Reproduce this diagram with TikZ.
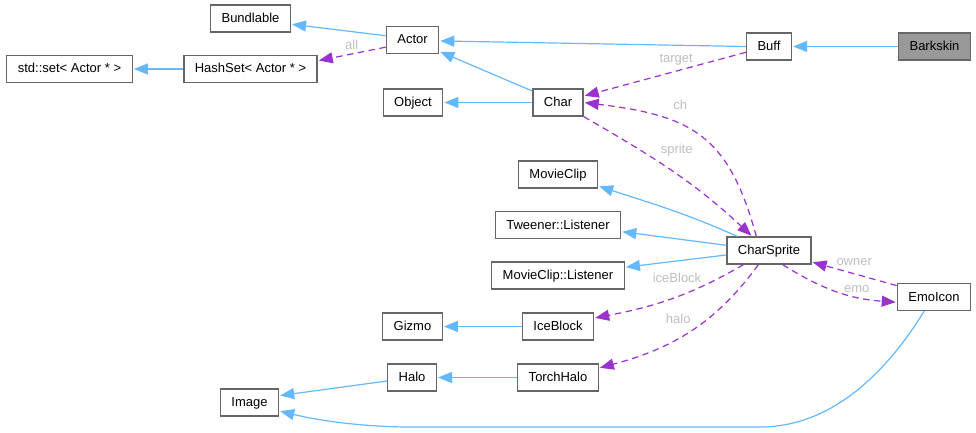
\documentclass[tikz,border=0pt]{standalone}
\usepackage{fontspec}
\setmainfont{Liberation Sans}
\usetikzlibrary{positioning,arrows.meta}

\definecolor{boxgray}{HTML}{666666}
\definecolor{rootgray}{HTML}{999999}
\definecolor{inhblue}{HTML}{63B8FF}
\definecolor{memberpurple}{HTML}{9A32CD}
\definecolor{labelgray}{HTML}{BEBEBE}

\tikzset{
  box/.style={draw=boxgray,line width=1.3pt,fill=white,minimum height=27pt,inner xsep=11pt,inner ysep=0pt,text height=10pt,text depth=2pt,font=\fontsize{13}{15}\selectfont},
  rootbox/.style={box,fill=rootgray},
  inherits/.style={-{Triangle[length=14pt,width=11pt]},draw=inhblue,line width=1.2pt},
  member/.style={-{Triangle[length=14pt,width=11pt]},draw=memberpurple,line width=1.2pt,dash pattern=on 6.5pt off 4.5pt},
  lbl/.style={text=labelgray,inner sep=0pt,text height=10pt,text depth=2pt,font=\fontsize{13}{15}\selectfont}
}

\begin{document}
\begin{tikzpicture}[x=1pt,y=1pt,shorten >=1pt,on grid]
   \useasboundingbox (0,0) rectangle (976,-433);

   \node[rootbox] (Barkskin) at (934.5,-46.5) {Barkskin};
   \node[box] (Buff) [left=165.5pt of Barkskin] {Buff};
   \node[box] (Char) [below left=56pt and 211pt of Buff] {Char};
   \node[box] (Actor) [above left=62.5pt and 145.5pt of Char] {Actor};
   \node[box] (Object) [left=145pt of Char] {Object};
   \node[box] (Bundlable) [above left=21.5pt and 162pt of Actor] {Bundlable};
   \node[box] (HashSet) [below left=29pt and 162pt of Actor] {HashSet< Actor * >};
   \node[box] (StdSet) [left=181pt of HashSet] {std::set< Actor * >};
   \node[box] (CharSprite) [below=204pt of Buff] {CharSprite};
   \node[box] (MovieClip) [below=72pt of Char] {MovieClip};
   \node[box] (TweenerListener) [below=50.5pt of MovieClip] {Tweener::Listener};
   \node[box] (ClipListener) [below=50.5pt of TweenerListener] {MovieClip::Listener};
   \node[box] (IceBlock) [below=51pt of ClipListener] {IceBlock};
   \node[box] (TorchHalo) [below=51pt of IceBlock] {TorchHalo};
   \node[box] (Gizmo) [left=145.5pt of IceBlock] {Gizmo};
   \node[box] (Halo) [left=146pt of TorchHalo] {Halo};
   \node[box] (Image) [below left=25pt and 162.5pt of Halo] {Image};
   \node[box] (EmoIcon) [below right=46.5pt and 165pt of CharSprite] {EmoIcon};

    \path
    (Barkskin.west) edge [inherits] (Buff.east)
    (Buff.west) edge [inherits] (Actor.-2)
    (Char.156) edge [inherits] (Actor.-23)
    (Char.west) edge [inherits] (Object.east)
    (Actor.171) edge [inherits] (Bundlable.-8)
    (HashSet.west) edge [inherits] (StdSet.east)
    (CharSprite.156) edge [inherits,out=156,in=-18] (MovieClip.-16)
    (CharSprite.173) edge [inherits] (TweenerListener.-6)
    (CharSprite.186) edge [inherits] (ClipListener.7)
    (IceBlock.west) edge [inherits] (Gizmo.east)
    (TorchHalo.west) edge [inherits] (Halo.east)
    (Halo.188) edge [inherits] (Image.13)
    ;
    \draw[inherits] (EmoIcon.235) .. controls (885,-375) and (830,-427) .. (760,-427)
      -- (410,-427) .. controls (370,-427) and (325,-422) .. (Image.-16);

    \path
    (Actor.195) edge [member] node[lbl,pos=.5,yshift=8pt] (lblall) {all} (HashSet.7)
    (Buff.194) edge [member] node[lbl,pos=.43,yshift=13pt] (lbltarget) {target} (Char.14)
    (CharSprite.132) edge [member,out=105,in=-7,looseness=1.25] node[lbl,pos=.6,yshift=20pt,xshift=-2pt] (lblch) {ch} (Char.east)
    (Char.south east) edge [member,out=-30,in=137] node[lbl,pos=.53,yshift=25pt] (lblsprite) {sprite} (CharSprite.140)
    (CharSprite.209) edge [member,out=-150,in=11] node[lbl,pos=.46,yshift=18pt] (lblice) {iceBlock} (IceBlock.13)
    (CharSprite.233) edge [member,out=-126,in=15] node[lbl,pos=.57,yshift=19pt] (lblhalo) {halo} (TorchHalo.13)
    (CharSprite.-46) edge [member,out=-32,in=176] node[lbl,pos=.68,yshift=8pt] (lblemo) {emo} (EmoIcon.188)
    (EmoIcon.163) edge [member] node[lbl,pos=.5,yshift=12pt] (lblowner) {owner} (CharSprite.-15)
    ;
\end{tikzpicture}
\end{document}
